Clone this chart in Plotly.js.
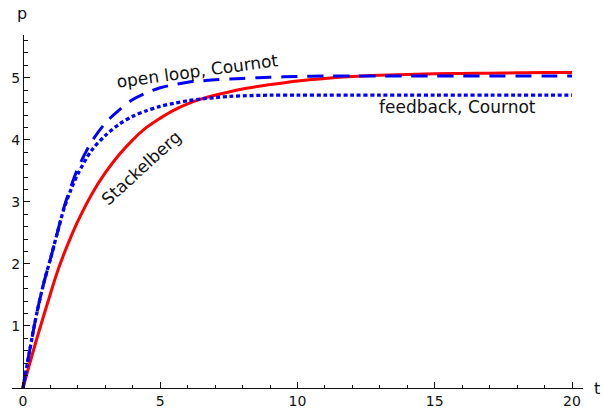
<!DOCTYPE html>
<html>
<head>
<meta charset="utf-8">
<script src="https://cdn.plot.ly/plotly-3.0.1.min.js"></script>
<style>html,body{margin:0;padding:0;background:#fff;}#chart{width:602px;height:410px;}</style>
</head>
<body>
<div id="chart"></div>
<script>
// time grid
var tVals = [0, 0.25, 0.5, 0.75, 1, 1.25, 1.5, 1.75, 2, 2.5, 3, 3.5, 4, 4.5, 5, 5.5, 6, 6.5, 7, 7.5, 8, 9, 10, 11, 12, 13, 14, 15, 16, 17, 18, 19, 20];
// Stackelberg (red solid)
var stackelberg = [0, 0.4, 0.79, 1.16, 1.52, 1.87, 2.17, 2.44, 2.69, 3.12, 3.47, 3.76, 4.0, 4.2, 4.35, 4.48, 4.58, 4.66, 4.72, 4.77, 4.82, 4.89, 4.95, 4.99, 5.02, 5.04, 5.055, 5.065, 5.07, 5.075, 5.08, 5.085, 5.085];
// open loop, Cournot (blue dashed)
var openLoop = [0, 0.62, 1.2, 1.68, 2.08, 2.5, 2.92, 3.25, 3.54, 3.97, 4.27, 4.48, 4.65, 4.76, 4.84, 4.89, 4.93, 4.95, 4.97, 4.98, 4.99, 5.01, 5.02, 5.03, 5.03, 5.03, 5.03, 5.03, 5.03, 5.03, 5.03, 5.03, 5.03];
// feedback, Cournot (blue dotted)
var feedback = [0, 0.62, 1.2, 1.68, 2.08, 2.5, 2.9, 3.2, 3.45, 3.83, 4.07, 4.25, 4.38, 4.47, 4.54, 4.59, 4.63, 4.66, 4.68, 4.7, 4.71, 4.72, 4.72, 4.72, 4.72, 4.72, 4.72, 4.72, 4.72, 4.72, 4.72, 4.72, 4.72];

var xTicks = [0, 5, 10, 15, 20];
var yTicks = [1, 2, 3, 4, 5];

var traces = [
  {x: tVals, y: stackelberg, mode: 'lines', line: {color: '#ff0000', width: 3, shape: 'spline', smoothing: 1}, name: 'Stackelberg'},
  {x: tVals, y: openLoop, mode: 'lines', line: {color: '#0000ff', width: 3, dash: '16px,10px', shape: 'spline', smoothing: 0.9}, name: 'open loop, Cournot'},
  {x: tVals, y: feedback, mode: 'lines', line: {color: '#0000ff', width: 3.3, dash: '4px,2.7px', shape: 'spline', smoothing: 0.9}, name: 'feedback, Cournot'}
];

var axFont = {family: 'DejaVu Sans', size: 14, color: '#111'};
var labFont = {family: 'DejaVu Sans', size: 17, color: '#111'};

var layout = {
  width: 602, height: 410,
  margin: {l: 12, r: 19, t: 35, b: 22, pad: 0},
  paper_bgcolor: '#fff', plot_bgcolor: '#fff',
  showlegend: false,
  font: axFont,
  xaxis: {
    range: [-0.4, 20.4], showgrid: false, zeroline: false,
    showline: true, linecolor: '#111', linewidth: 1.2,
    tickmode: 'array', tickvals: xTicks, ticktext: xTicks.map(String),
    ticks: 'inside', ticklen: 6, tickwidth: 1, tickcolor: '#111',
    minor: {tickmode: 'linear', tick0: 0, dtick: 1, ticks: 'inside', ticklen: 3.5, tickwidth: 1, tickcolor: '#111', showgrid: false},
    tickfont: axFont, fixedrange: true
  },
  yaxis: {
    range: [0, 5.69], showgrid: false, zeroline: false,
    anchor: 'free', position: 11 / 571,
    showline: true, linecolor: '#111', linewidth: 1.2,
    tickmode: 'array', tickvals: yTicks, ticktext: yTicks.map(String),
    ticks: 'inside', ticklen: 6, tickwidth: 1, tickcolor: '#111',
    minor: {tickmode: 'linear', tick0: 0, dtick: 0.2, ticks: 'inside', ticklen: 3.5, tickwidth: 1, tickcolor: '#111', showgrid: false},
    tickfont: axFont, fixedrange: true
  },
  annotations: [
    {text: 'open loop, Cournot', x: 6.35, y: 5.11, xref: 'x', yref: 'y', showarrow: false, textangle: -7.7, font: labFont},
    {text: 'feedback, Cournot', x: 15.81, y: 4.53, xref: 'x', yref: 'y', showarrow: false, font: labFont},
    {text: 'Stackelberg', x: 4.3, y: 3.55, xref: 'x', yref: 'y', showarrow: false, textangle: -42.5, font: labFont},
    {text: 'p', x: 0, y: 0, xref: 'paper', yref: 'paper', xanchor: 'center', yanchor: 'middle', showarrow: false, font: {family: 'DejaVu Sans', size: 16, color: '#111'}},
    {text: 't', x: 0, y: 0, xref: 'paper', yref: 'paper', xanchor: 'center', yanchor: 'middle', showarrow: false, font: {family: 'DejaVu Sans', size: 16, color: '#111'}}
  ]
};
// place axis-name labels (paper coords of the plot area)
var plotW = 602 - 12 - 19, plotH = 410 - 35 - 22;
layout.annotations[3].x = (22 - 12) / plotW; layout.annotations[3].y = (410 - 22 - 13) / plotH;
layout.annotations[4].x = (597 - 12) / plotW; layout.annotations[4].y = (410 - 22 - 388) / plotH;

Plotly.newPlot('chart', traces, layout, {staticPlot: true, displayModeBar: false});
</script>
</body>
</html>
